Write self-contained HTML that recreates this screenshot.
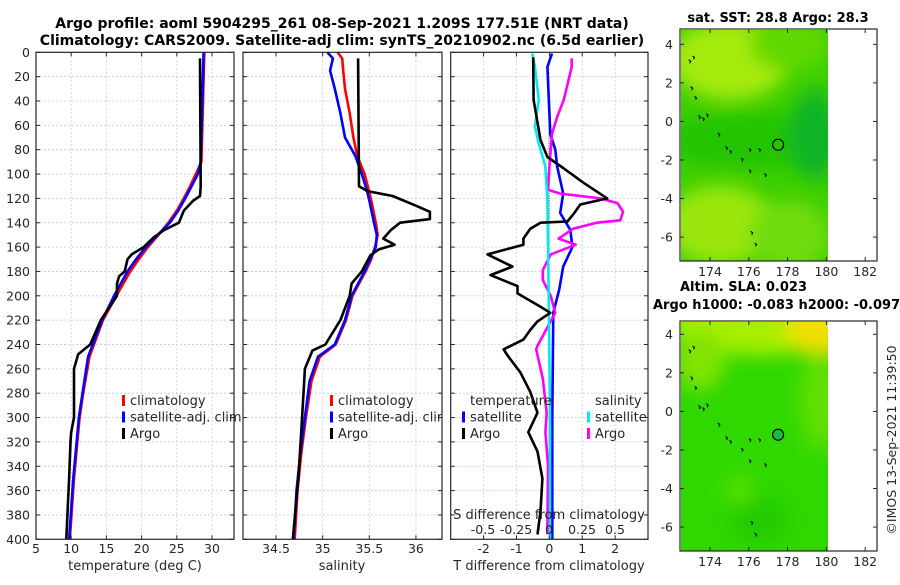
<!DOCTYPE html>
<html><head><meta charset="utf-8"><style>
html,body{margin:0;padding:0;background:#fff;}
svg text{font-family:"DejaVu Sans","Liberation Sans",sans-serif;fill:#262626;}
</style></head><body>
<svg id="fig" width="900" height="580" viewBox="0 0 900 580" xmlns="http://www.w3.org/2000/svg">
<defs>
<filter id="blur1" x="-50%" y="-50%" width="200%" height="200%"><feGaussianBlur stdDeviation="9"/></filter>
<clipPath id="clipM1"><rect x="681" y="30" width="147" height="231"/></clipPath>
<clipPath id="clipM2"><rect x="681" y="322" width="147" height="229"/></clipPath>
</defs>
<g>
<text x="342" y="28" text-anchor="middle" font-size="14" font-weight="bold" style="fill:#000">Argo profile: aoml 5904295_261 08-Sep-2021 1.209S 177.51E (NRT data)</text>
<text x="342" y="45" text-anchor="middle" font-size="14" font-weight="bold" style="fill:#000">Climatology: CARS2009. Satellite-adj clim: synTS_20210902.nc (6.5d earlier)</text>
</g>
<g id="panels"></g>
<g id="maps">
<text x="778" y="22" text-anchor="middle" font-size="13" font-weight="bold" style="fill:#000">sat. SST: 28.8 Argo: 28.3</text>
<g clip-path="url(#clipM1)">
<rect x="681" y="30" width="147" height="231" fill="#3ccf00"/>
<g filter="url(#blur1)">
<ellipse cx="730" cy="60" rx="60" ry="40" fill="#a6ea10"/>
<ellipse cx="790" cy="45" rx="40" ry="25" fill="#60d800"/>
<ellipse cx="755" cy="140" rx="95" ry="28" fill="#22c400"/>
<ellipse cx="815" cy="135" rx="25" ry="45" fill="#10b428"/>
<ellipse cx="720" cy="225" rx="55" ry="40" fill="#9ae610"/>
<ellipse cx="790" cy="235" rx="40" ry="35" fill="#70dc10"/>
</g>
</g>
<g clip-path="url(#clipM2)">
<rect x="681" y="322" width="147" height="229" fill="#30d800"/>
<g filter="url(#blur1)">
<ellipse cx="760" cy="325" rx="90" ry="30" fill="#a8ee00"/>
<ellipse cx="820" cy="330" rx="35" ry="25" fill="#f0e000"/>
<ellipse cx="700" cy="360" rx="25" ry="30" fill="#80e400"/>
<ellipse cx="820" cy="400" rx="20" ry="50" fill="#60e000"/>
<ellipse cx="760" cy="520" rx="30" ry="25" fill="#20cc00"/>
<ellipse cx="740" cy="490" rx="15" ry="15" fill="#55de00"/>
</g>
</g>
<text x="680" y="291" font-size="13" font-weight="bold" style="fill:#000">Altim. SLA: 0.023</text>
<text x="653" y="309" font-size="13" font-weight="bold" style="fill:#000">Argo h1000: -0.083 h2000: -0.097</text>
<text transform="translate(896,440) rotate(-90)" text-anchor="middle" font-size="12.5">©IMOS 13-Sep-2021 11:39:50</text>
</g>
</svg>
<script>
var tempDepths   = [0, 90, 100, 110, 120, 130, 140, 150, 160, 170, 180, 200, 220, 250, 280, 300, 350, 400];
var tempClim     = [28.9, 28.5, 27.7, 26.9, 26.0, 25.0, 23.8, 22.4, 20.9, 19.6, 18.4, 16.4, 14.5, 12.6, 11.7, 11.2, 10.4, 9.8];
var tempSat      = [28.8, 28.4, 28.0, 27.1, 26.2, 25.2, 24.0, 22.3, 20.6, 19.2, 18.0, 16.1, 14.4, 12.4, 11.6, 11.1, 10.3, 9.7];
var argoTDepths  = [5, 110, 118, 122, 130, 140, 146, 152, 160, 166, 170, 180, 184, 190, 200, 220, 240, 248, 260, 300, 312, 320, 350, 400];
var argoTemp     = [28.3, 28.4, 28.3, 27.3, 26.0, 25.3, 23.2, 21.7, 20.3, 18.6, 18.0, 17.6, 16.8, 16.5, 16.5, 14.2, 12.7, 11.0, 10.4, 10.4, 10.0, 9.9, 9.7, 9.3];

var salDepths    = [0, 5, 15, 30, 50, 70, 85, 100, 115, 125, 140, 150, 160, 170, 180, 190, 200, 220, 240, 250, 270, 300, 330, 360, 400];
var salSat       = [35.05, 35.11, 35.08, 35.13, 35.19, 35.24, 35.35, 35.42, 35.48, 35.51, 35.55, 35.58, 35.57, 35.51, 35.45, 35.38, 35.31, 35.24, 35.13, 34.95, 34.86, 34.81, 34.76, 34.72, 34.69];
var salClim      = [35.16, 35.21, 35.22, 35.24, 35.29, 35.33, 35.37, 35.45, 35.50, 35.53, 35.57, 35.59, 35.56, 35.52, 35.46, 35.39, 35.32, 35.25, 35.14, 34.97, 34.88, 34.82, 34.77, 34.73, 34.70];
var argoSDepths  = [5, 110, 114, 118, 126, 131, 137, 140, 146, 153, 158, 162, 167, 180, 190, 200, 220, 240, 245, 260, 300, 350, 400];
var argoSal      = [35.38, 35.39, 35.48, 35.75, 36.0, 36.15, 36.15, 35.83, 35.73, 35.65, 35.77, 35.60, 35.51, 35.42, 35.31, 35.29, 35.19, 35.03, 34.89, 34.81, 34.78, 34.74, 34.68];

var dTDepths     = [4, 39, 72, 86, 95, 107, 120, 125, 133, 139, 140, 145, 153, 158, 166, 176, 183, 192, 198, 209, 214, 221, 228, 236, 244, 249, 263, 279, 296, 312, 328, 350, 377, 396];
var argoDT       = [-0.49, -0.48, -0.27, -0.06, 0.42, 1.03, 1.76, 0.94, 0.73, 0.55, -0.27, -0.58, -0.79, -0.79, -1.88, -1.12, -1.79, -0.97, -0.97, -0.27, 0.03, -0.36, -0.58, -0.79, -1.39, -1.27, -0.88, -0.58, -0.36, -0.64, -0.36, -0.21, -0.27, -0.36];
var satDTDepths  = [1, 12, 67, 80, 94, 116, 132, 146, 160, 176, 195, 214, 300, 400];
var satDT        = [0.08, -0.06, 0.03, 0.18, 0.24, 0.42, 0.33, 0.64, 0.70, 0.42, 0.30, 0.12, 0.09, 0.09];
var satDSDepths  = [1, 12, 39, 61, 75, 94, 121, 200, 300, 400];
var satDS        = [-0.13, -0.11, -0.08, -0.11, -0.08, -0.03, -0.015, -0.005, 0.005, 0.005];
var argoDSDepths = [5, 12, 39, 53, 67, 94, 113, 116, 120, 124, 131, 138, 140, 145, 153, 158, 166, 179, 187, 200, 214, 225, 241, 244, 268, 296, 312, 339, 396];
var argoDS       = [0.17, 0.17, 0.11, 0.06, 0.02, 0.0, -0.01, 0.08, 0.39, 0.52, 0.56, 0.54, 0.36, 0.18, 0.07, 0.20, 0.01, -0.05, -0.05, 0.01, 0.045, -0.01, -0.09, -0.10, -0.05, -0.02, -0.03, -0.01, -0.015];

var coastLon = [172.9, 173.1, 173.0, 173.2, 173.4, 173.6, 173.8, 174.4, 174.8, 175.0, 175.6, 176.0, 176.5, 176.0, 176.8, 176.1, 176.3];
var coastLat = [3.2, 3.4, 1.8, 1.3, 0.3, 0.2, 0.4, -0.6, -1.3, -1.5, -1.9, -1.4, -1.4, -2.5, -2.7, -5.7, -6.3];
var argoLon = 177.51, argoLat = -1.209;

var depthTicks = [0,20,40,60,80,100,120,140,160,180,200,220,240,260,280,300,320,340,360,380,400];
var tTicks = [5,10,15,20,25,30];
var sTicks = [34.5,35,35.5,36];
var dTTicks = [-2,-1,0,1,2];
var dSTicks = [-0.5,-0.25,0,0.25,0.5];
var dSLabels = ["-0.5","-0.25","0","0.25","0.5"];
var lonTicks = [174,176,178,180,182];
var latTicks = [4,2,0,-2,-4,-6];

var NS = "http://www.w3.org/2000/svg";
var root = document.getElementById('panels');
function mk(tag, attrs, parent){ var e=document.createElementNS(NS,tag); for(var k in attrs) e.setAttribute(k,attrs[k]); (parent||root).appendChild(e); return e; }
var Y0=52.3, Y1=539.3;
function yD(d){ return Y0 + d*(Y1-Y0)/400; }

function panel(name, x0, x1, vmin, vmax){
  var g = mk('g',{});
  
  
  var xs = function(v){ return x0 + (v-vmin)*(x1-x0)/(vmax-vmin); };
  return {g:g, x:xs, x0:x0, x1:x1};
}
function grid(p, xt){
  var gg = mk('g',{stroke:'#c4c8e4','stroke-width':'0.8','stroke-dasharray':'2,2'}, p.g);
  
  
  depthTicks.forEach(function(d){ if(d>0&&d<400) mk('line',{x1:p.x0,x2:p.x1,y1:yD(d),y2:yD(d)},gg); });
  xt.forEach(function(v){ var x=p.x(v); if(x>p.x0+1&&x<p.x1-1) mk('line',{x1:x,x2:x,y1:Y0,y2:Y1},gg); });
}
function frame(p, xt){
  var gf = mk('g',{stroke:'#262626','stroke-width':'1'}, p.g);
  depthTicks.forEach(function(d){ mk('line',{x1:p.x0,x2:p.x0+4,y1:yD(d),y2:yD(d)},gf); mk('line',{x1:p.x1,x2:p.x1-4,y1:yD(d),y2:yD(d)},gf); });
  xt.forEach(function(v){ var x=p.x(v); mk('line',{x1:x,x2:x,y1:Y1,y2:Y1-4},gf); mk('line',{x1:x,x2:x,y1:Y0,y2:Y0+4},gf); });
  var r = mk('rect',{x:p.x0,y:Y0,width:p.x1-p.x0,height:Y1-Y0,fill:'none',stroke:'#262626','stroke-width':'1.2'}, p.g);
  
  
}
function xlabels(p, xt, labels, y){
  xt.forEach(function(v,i){ var t=mk('text',{x:p.x(v),y:y,'text-anchor':'middle','font-size':'12.5'},p.g); t.textContent = labels? labels[i] : String(v);
    
     });
}
function line(p, depths, vals, color, name, w){
  var pts = depths.map(function(d,i){ return p.x(vals[i]).toFixed(1)+','+yD(d).toFixed(1); }).join(' ');
  var l = mk('polyline',{points:pts,fill:'none',stroke:color,'stroke-width':w||2.6,'stroke-linejoin':'round'},p.g);
  
  
}
function legend(p, x, y, items){
  items.forEach(function(it,i){
    var yy = y + i*16.5;
    if(it.c){ var m=mk('rect',{x:x,y:yy-10,width:3,height:11,fill:it.c},p.g);
      
       }
    var t = mk('text',{x:x+8,y:yy,'font-size':'13'},p.g); t.textContent = it.t;
    
    
  });
}

var p1 = panel('temperature-panel', 36, 234, 5, 5+198/7.04);
grid(p1, tTicks);
line(p1, tempDepths, tempClim, '#ff0000', 'climatology-temp-line');
line(p1, tempDepths, tempSat, '#0000ff', 'satellite-temp-line');
line(p1, argoTDepths, argoTemp, '#000000', 'argo-temp-line');
frame(p1, tTicks);
xlabels(p1, tTicks, null, 553);
depthTicks.forEach(function(d){ var t=mk('text',{x:30,y:yD(d)+4.5,'text-anchor':'end','font-size':'12.5'},p1.g); t.textContent=d;
  
   });
var xt1 = mk('text',{x:135,y:570,'text-anchor':'middle','font-size':'13'},p1.g); xt1.textContent='temperature (deg C)';


legend(p1, 122, 405, [{c:'#ff0000',t:'climatology'},{c:'#0000ff',t:'satellite-adj. clim'},{c:'#000',t:'Argo'}]);

var p2 = panel('salinity-panel', 243, 442, 34.5-(276-243)/93.3, 34.5+(442-276)/93.3);
grid(p2, sTicks);
line(p2, salDepths, salClim, '#ff0000', 'climatology-sal-line');
line(p2, salDepths, salSat, '#0000ff', 'satellite-sal-line');
line(p2, argoSDepths, argoSal, '#000000', 'argo-sal-line');
frame(p2, sTicks);
xlabels(p2, sTicks, null, 553);
var xt2 = mk('text',{x:342,y:570,'text-anchor':'middle','font-size':'13'},p2.g); xt2.textContent='salinity';


var cp = mk('clipPath',{id:'clipP2'}); mk('rect',{x:243,y:0,width:199,height:580},cp);
var lg2 = mk('g',{'clip-path':'url(#clipP2)'},p2.g);
legend({g:lg2}, 330, 405, [{c:'#ff0000',t:'climatology'},{c:'#0000ff',t:'satellite-adj. clim'},{c:'#000',t:'Argo'}]);

var p3 = panel('difference-panel', 450.7, 648, -3, 3);
var sx = function(v){ return 549 + v*132; };
grid(p3, dTTicks);
var zl = mk('line',{x1:549,x2:549,y1:yD(60),y2:Y1,stroke:'#333','stroke-width':'1','stroke-dasharray':'1,1.5'},p3.g);


line(p3, satDTDepths, satDT, '#0000ff', 'satellite-dT-line');
line(p3, argoDSDepths, argoDS.map(function(v){return v*4;}), '#ff00ff', 'argo-dS-line');
line(p3, satDSDepths, satDS.map(function(v){return v*4;}), '#00e8f0', 'satellite-dS-line');
line(p3, dTDepths, argoDT, '#000000', 'argo-dT-line');
frame(p3, dTTicks);
xlabels(p3, dTTicks, null, 553);
var xt3 = mk('text',{x:549,y:570,'text-anchor':'middle','font-size':'13'},p3.g); xt3.textContent='T difference from climatology';


var st = mk('text',{x:549,y:519,'text-anchor':'middle','font-size':'13'},p3.g); st.textContent='S difference from climatology';


dSTicks.forEach(function(v,i){ var t=mk('text',{x:sx(v),y:534,'text-anchor':'middle','font-size':'12.5'},p3.g); t.textContent=dSLabels[i];
  
   });
var lt = mk('text',{x:470,y:405,'font-size':'13'},p3.g); lt.textContent='temperature';


var ls = mk('text',{x:595,y:405,'font-size':'13'},p3.g); ls.textContent='salinity';


legend(p3, 462, 421.5, [{c:'#0000ff',t:'satellite'},{c:'#000',t:'Argo'}]);
legend(p3, 587, 421.5, [{c:'#00e8f0',t:'satellite'},{c:'#ff00ff',t:'Argo'}]);

var maps = document.getElementById('maps');
function mapAxes(name, yTop, yBot, lat4y, circFill){
  var g = mk('g',{},maps);
  
  
  var lx = function(lon){ return 710 + (lon-174)*19.4; };
  var ly = function(lat){ return lat4y + (4-lat)*19.28; };
  coastLon.forEach(function(lo,i){
    var c = mk('path',{d:'M'+lx(lo).toFixed(1)+','+ly(coastLat[i]).toFixed(1)+' l2,1.5 l-1,2',fill:'none',stroke:'#000','stroke-width':'1.1'},g);
    
    
  });
  var ci = mk('circle',{cx:lx(argoLon),cy:ly(argoLat),r:5.5,fill:circFill,stroke:'#000','stroke-width':'1.2'},g);
  
  
  var fr = mk('rect',{x:680,y:yTop,width:197,height:yBot-yTop,fill:'none',stroke:'#262626','stroke-width':'1.2'},g);
  
  
  lonTicks.forEach(function(lo){ var x=lx(lo);
    mk('line',{x1:x,x2:x,y1:yBot,y2:yBot-4,stroke:'#262626'},g); mk('line',{x1:x,x2:x,y1:yTop,y2:yTop+4,stroke:'#262626'},g);
    var t=mk('text',{x:x,y:yBot+15,'text-anchor':'middle','font-size':'12.5'},g); t.textContent=lo;
    
     });
  latTicks.forEach(function(la){ var y=ly(la);
    mk('line',{x1:680,x2:684,y1:y,y2:y,stroke:'#262626'},g); mk('line',{x1:877,x2:873,y1:y,y2:y,stroke:'#262626'},g);
    var t=mk('text',{x:673,y:y+4.5,'text-anchor':'end','font-size':'12.5'},g); t.textContent=la;
    
     });
}
mapAxes('sst-map', 29, 261, 44.3, 'none');
mapAxes('sla-map', 321, 551, 334.3, '#1fb840');
</script>
</body></html>
